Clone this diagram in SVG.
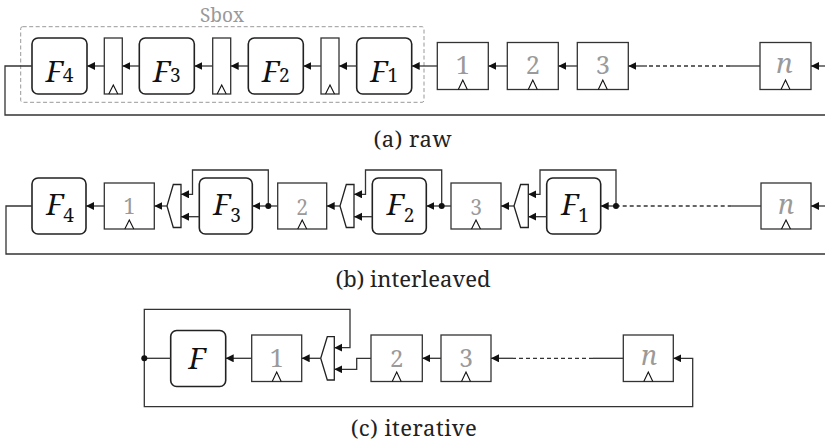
<svg xmlns="http://www.w3.org/2000/svg" width="825" height="446" viewBox="0 0 825 446">
<style>
  .fbox{fill:#fff;stroke:#222;stroke-width:1.6}
  .reg{fill:#fff;stroke:#333;stroke-width:1.3}
  .clk{fill:none;stroke:#111;stroke-width:1.1}
  .mux{fill:#fff;stroke:#222;stroke-width:1.3}
  .w{fill:none;stroke:#333;stroke-width:1.3}
  .wa{fill:none;stroke:#333;stroke-width:1.3;marker-end:url(#ah)}
  .dash{fill:none;stroke:#333;stroke-width:1.3;stroke-dasharray:4 3}
  .dot{fill:#111}
  .sbox{fill:none;stroke:#999;stroke-width:1;stroke-dasharray:4 2.5}
  text{font-family:'Noto Serif','DejaVu Serif','Liberation Serif',serif}
  .fl{font-style:italic;fill:#111;text-anchor:middle}
  .sub{font-style:normal}
  .num{fill:#9a9a9a;text-anchor:middle}
  .nit{font-style:italic}
  .cap{fill:#222;text-anchor:middle;font-size:22px}
  .grey{fill:#999;text-anchor:middle;font-size:19px}
</style>
<defs>
  <marker id="ah" markerUnits="userSpaceOnUse" markerWidth="9" markerHeight="9" refX="8" refY="4" orient="auto">
    <path d="M0,0 L8,4 L0,8 z" fill="#111"/>
  </marker>
</defs>

<!-- (a) raw -->
<g id="a-sbox">
  <rect class="sbox" x="20.7" y="26.7" width="403.3" height="75.6" rx="2"/>
  <text class="grey" x="222" y="22" textLength="44">Sbox</text>
</g>
<g id="a-F4"><rect class="fbox" x="32" y="38" width="55" height="56" rx="6"/><text class="fl" x="59.5" y="81.5" font-size="29">F<tspan class="sub" font-size="19" dy="0">4</tspan></text></g>
<g id="a-r1"><rect class="reg" x="104.3" y="38" width="18" height="56"/><polyline class="clk" points="108.8,94 113.3,85 117.8,94"/></g>
<g id="a-F3"><rect class="fbox" x="139.3" y="38" width="55" height="56" rx="6"/><text class="fl" x="166.8" y="81.5" font-size="29">F<tspan class="sub" font-size="19" dy="0">3</tspan></text></g>
<g id="a-r2"><rect class="reg" x="212.7" y="38" width="18" height="56"/><polyline class="clk" points="217.2,94 221.7,85 226.2,94"/></g>
<g id="a-F2"><rect class="fbox" x="248.3" y="38" width="55" height="56" rx="6"/><text class="fl" x="275.8" y="81.5" font-size="29">F<tspan class="sub" font-size="19" dy="0">2</tspan></text></g>
<g id="a-r3"><rect class="reg" x="321" y="38" width="18" height="56"/><polyline class="clk" points="325.5,94 330,85 334.5,94"/></g>
<g id="a-F1"><rect class="fbox" x="356.7" y="38" width="55" height="56" rx="6"/><text class="fl" x="384.2" y="81.5" font-size="29">F<tspan class="sub" font-size="19" dy="0">1</tspan></text></g>
<g id="a-b1"><rect class="reg" x="437.3" y="42.5" width="51" height="47"/><polyline class="clk" points="458.3,89.5 462.8,80 467.3,89.5"/><text class="num" x="462.8" y="74" font-size="25.5">1</text></g>
<g id="a-b2"><rect class="reg" x="507.3" y="42.5" width="51" height="47"/><polyline class="clk" points="528.3,89.5 532.8,80 537.3,89.5"/><text class="num" x="532.8" y="74" font-size="25.5">2</text></g>
<g id="a-b3"><rect class="reg" x="577.3" y="42.5" width="51" height="47"/><polyline class="clk" points="598.3,89.5 602.8,80 607.3,89.5"/><text class="num" x="602.8" y="74" font-size="25.5">3</text></g>
<g id="a-bn"><rect class="reg" x="760" y="42.5" width="51" height="47"/><polyline class="clk" points="781,89.5 785.5,80 790,89.5"/><text class="num nit" x="784.5" y="73.3" font-size="28">n</text></g>
<text id="a-cap" class="cap" x="412.5" y="147" textLength="78">(a) raw</text>

<!-- (b) interleaved -->
<g id="b-F4"><rect class="fbox" x="32" y="178" width="54" height="56" rx="6"/><text class="fl" x="60" y="215" font-size="29">F<tspan class="sub" font-size="19" dy="7">4</tspan></text></g>
<g id="b-b1"><rect class="reg" x="104.3" y="183" width="50" height="46"/><polyline class="clk" points="124.8,229 129.3,220 133.8,229"/><text class="num" x="129.3" y="213.5" font-size="21">1</text></g>
<g id="b-m1"><polygon class="mux" points="173.3,184.5 181,184.5 181,227.5 173.3,227.5 167,206"/></g>
<g id="b-F3"><rect class="fbox" x="199.3" y="178" width="53" height="56" rx="6"/><text class="fl" x="227" y="215" font-size="29">F<tspan class="sub" font-size="19" dy="7">3</tspan></text></g>
<g id="b-b2"><rect class="reg" x="277.7" y="183" width="49" height="46"/><polyline class="clk" points="297.7,229 302.2,220 306.7,229"/><text class="num" x="302.2" y="214.5" font-size="21">2</text></g>
<g id="b-m2"><polygon class="mux" points="346.3,184.5 354,184.5 354,227.5 346.3,227.5 340,206"/></g>
<g id="b-F2"><rect class="fbox" x="372.3" y="178" width="54" height="56" rx="6"/><text class="fl" x="400.5" y="215" font-size="29">F<tspan class="sub" font-size="19" dy="7">2</tspan></text></g>
<g id="b-b3"><rect class="reg" x="451" y="183" width="50" height="46"/><polyline class="clk" points="471.5,229 476,220 480.5,229"/><text class="num" x="476" y="214.5" font-size="21">3</text></g>
<g id="b-m3"><polygon class="mux" points="520.6,184.5 528.3,184.5 528.3,227.5 520.6,227.5 514,206"/></g>
<g id="b-F1"><rect class="fbox" x="546.7" y="178" width="54" height="56" rx="6"/><text class="fl" x="575" y="215" font-size="29">F<tspan class="sub" font-size="19" dy="7">1</tspan></text></g>
<g id="b-bn"><rect class="reg" x="761" y="183" width="50" height="46"/><polyline class="clk" points="781.5,229 786,220 790.5,229"/><text class="num nit" x="786" y="214.3" font-size="27">n</text></g>
<text id="b-cap" class="cap" x="413" y="286.5" textLength="155">(b) interleaved</text>

<!-- (c) iterative -->
<g id="c-F"><rect class="fbox" x="170.7" y="330.5" width="55" height="56" rx="6"/><text class="fl" x="197" y="369.3" font-size="29">F</text></g>
<g id="c-b1"><rect class="reg" x="251.7" y="335" width="50" height="46.5"/><polyline class="clk" points="272.2,381.5 276.7,372 281.2,381.5"/><text class="num" x="276.7" y="366.7" font-size="25">1</text></g>
<g id="c-m"><polygon class="mux" points="327.3,336.7 334.3,336.7 334.3,380 327.3,380 320.7,358.3"/></g>
<g id="c-b2"><rect class="reg" x="371" y="335" width="51.3" height="46.5"/><polyline class="clk" points="392.2,381.5 396.7,372 401.2,381.5"/><text class="num" x="396.7" y="366.7" font-size="24">2</text></g>
<g id="c-b3"><rect class="reg" x="441" y="335" width="50" height="46.5"/><polyline class="clk" points="461.5,381.5 466,372 470.5,381.5"/><text class="num" x="466" y="366.7" font-size="24.5">3</text></g>
<g id="c-bn"><rect class="reg" x="623.3" y="335" width="50" height="46.5"/><polyline class="clk" points="643.8,381.5 648.3,372 652.8,381.5"/><text class="num nit" x="649" y="365.3" font-size="27">n</text></g>
<text id="c-cap" class="cap" x="413.7" y="435.5" textLength="126">(c) iterative</text>

<g id="connectors">
  <!-- (a) -->
  <polyline class="w" points="32,66 5,66 5,115 830,115"/>
  <line class="wa" x1="830" y1="66" x2="811" y2="66"/>
  <line class="w" x1="760" y1="66" x2="730" y2="66"/>
  <line class="dash" x1="730" y1="66" x2="647" y2="66"/>
  <line class="wa" x1="647" y1="66" x2="628.3" y2="66"/>
  <line class="wa" x1="577.3" y1="66" x2="558.3" y2="66"/>
  <line class="wa" x1="507.3" y1="66" x2="488.3" y2="66"/>
  <line class="wa" x1="437.3" y1="66" x2="411.7" y2="66"/>
  <line class="wa" x1="356.7" y1="66" x2="339" y2="66"/>
  <line class="wa" x1="321" y1="66" x2="303.3" y2="66"/>
  <line class="wa" x1="248.3" y1="66" x2="230.7" y2="66"/>
  <line class="wa" x1="212.7" y1="66" x2="194.3" y2="66"/>
  <line class="wa" x1="139.3" y1="66" x2="122.3" y2="66"/>
  <line class="wa" x1="104.3" y1="66" x2="87" y2="66"/>

  <!-- (b) -->
  <polyline class="w" points="32,206 6,206 6,254 830,254"/>
  <line class="wa" x1="830" y1="206" x2="811" y2="206"/>
  <line class="w" x1="761" y1="206" x2="731.7" y2="206"/>
  <line class="dash" x1="731.7" y1="206" x2="619" y2="206"/>
  <line class="wa" x1="616" y1="206" x2="600.7" y2="206"/>
  <polyline class="wa" points="616,206 616,170 540,170 540,194.3 528.3,194.3"/>
  <line class="wa" x1="546.7" y1="216.7" x2="528.3" y2="216.7"/>
  <line class="wa" x1="514" y1="206" x2="501" y2="206"/>
  <line class="wa" x1="451" y1="206" x2="426.3" y2="206"/>
  <polyline class="wa" points="441.7,206 441.7,170 365.5,170 365.5,194.3 354,194.3"/>
  <line class="wa" x1="372.3" y1="216.7" x2="354" y2="216.7"/>
  <line class="wa" x1="340" y1="206" x2="326.7" y2="206"/>
  <line class="wa" x1="277.7" y1="206" x2="252.3" y2="206"/>
  <polyline class="wa" points="268.3,206 268.3,170 192.5,170 192.5,194.3 181,194.3"/>
  <line class="wa" x1="199.3" y1="216.7" x2="181" y2="216.7"/>
  <line class="wa" x1="167" y1="206" x2="154.3" y2="206"/>
  <line class="wa" x1="104.3" y1="206" x2="86" y2="206"/>
  <circle class="dot" cx="616" cy="206" r="3"/>
  <circle class="dot" cx="441.7" cy="206" r="3"/>
  <circle class="dot" cx="268.3" cy="206" r="3"/>

  <!-- (c) -->
  <line class="w" x1="170.7" y1="358.3" x2="144.3" y2="358.3"/>
  <polyline class="wa" points="144.3,358.3 144.3,309.3 350,309.3 350,347.7 334.3,347.7"/>
  <polyline class="wa" points="144.3,358.3 144.3,406.7 692.7,406.7 692.7,358.3 673.3,358.3"/>
  <polyline class="wa" points="371,358.3 356.7,358.3 356.7,369.3 334.3,369.3"/>
  <line class="wa" x1="320.7" y1="358.3" x2="301.7" y2="358.3"/>
  <line class="wa" x1="251.7" y1="358.3" x2="225.7" y2="358.3"/>
  <line class="wa" x1="441" y1="358.3" x2="422.3" y2="358.3"/>
  <line class="w" x1="623.3" y1="358.3" x2="593" y2="358.3"/>
  <line class="dash" x1="593" y1="358.3" x2="513" y2="358.3"/>
  <line class="wa" x1="513" y1="358.3" x2="491" y2="358.3"/>
  <circle class="dot" cx="144.3" cy="358.3" r="3"/>
</g>
</svg>
